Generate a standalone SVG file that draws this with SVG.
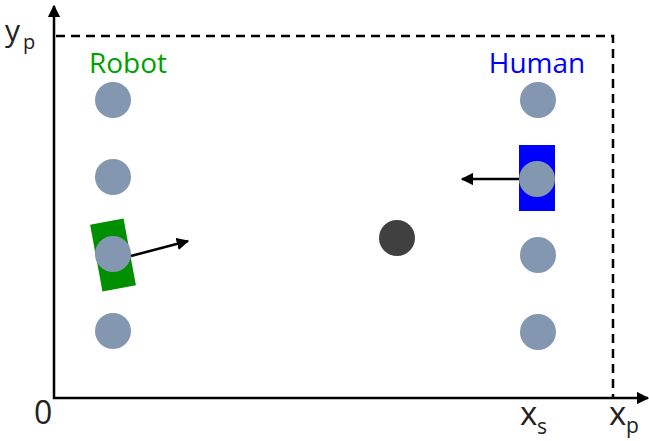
<svg xmlns="http://www.w3.org/2000/svg" width="649" height="441" viewBox="0 0 649 441">
<defs>
<style>
.ax{stroke:#000;stroke-width:2.5;fill:none}
.dash{stroke:#000;stroke-width:2.5;fill:none;stroke-dasharray:9,6}
.pos{fill:#8497b0}
.lbl{font-family:"Open Sans","Noto Sans",sans-serif;fill:#222}
.ttl{font-family:"Open Sans","Noto Sans",sans-serif;font-size:28px;text-anchor:middle}
.arr{stroke:#000;stroke-width:2.5;fill:none}
</style>
<marker id="ah" viewBox="0 0 10 10" refX="9" refY="5" markerWidth="5" markerHeight="5" markerUnits="strokeWidth" orient="auto">
<path d="M0,0 L10,5 L0,10 Z" fill="#000"/>
</marker>
</defs>
<rect width="649" height="441" fill="#fff"/>
<g id="axes">
<path class="dash" d="M56,36 H613 V398"/>
<path class="ax" d="M54,399 V6" marker-end="url(#ah)"/>
<path class="ax" d="M53,398 H648" marker-end="url(#ah)"/>
<text class="lbl" x="5" y="41" font-size="30">y</text>
<text class="lbl" x="23" y="49" font-size="20">p</text>
<text class="lbl" x="34" y="424" font-size="32">0</text>
<text class="lbl" x="520" y="425" font-size="33">x</text>
<text class="lbl" x="537" y="434" font-size="21">s</text>
<text class="lbl" x="609" y="425" font-size="33">x</text>
<text class="lbl" x="626" y="433" font-size="21">p</text>
</g>
<g id="robot-label"><text class="ttl" x="128" y="73" fill="#00a000">Robot</text></g>
<g id="human-label"><text class="ttl" x="537" y="73" fill="#0000ff">Human</text></g>
<g id="left-positions">
<circle class="pos" cx="113" cy="100" r="18"/>
<circle class="pos" cx="113" cy="177" r="18"/>
<circle class="pos" cx="113" cy="331" r="18"/>
</g>
<g id="right-positions">
<circle class="pos" cx="538" cy="100" r="18"/>
<circle class="pos" cx="538" cy="255" r="18"/>
<circle class="pos" cx="538" cy="332" r="18"/>
</g>
<g id="robot">
<rect x="96" y="221" width="34" height="68" fill="#008f00" transform="rotate(-10.5 113 255)"/>
<circle class="pos" cx="113" cy="254" r="18"/>
</g>
<g id="human">
<rect x="519" y="145" width="36" height="66" fill="#0000ff"/>
<circle class="pos" cx="537" cy="179" r="18"/>
</g>
<g id="target"><circle cx="397" cy="238" r="18" fill="#404040"/></g>
<g id="connectors">
<path class="arr" d="M131,256 L188,241" marker-end="url(#ah)"/>
<path class="arr" d="M519,179 L462,179" marker-end="url(#ah)"/>
</g>
</svg>
